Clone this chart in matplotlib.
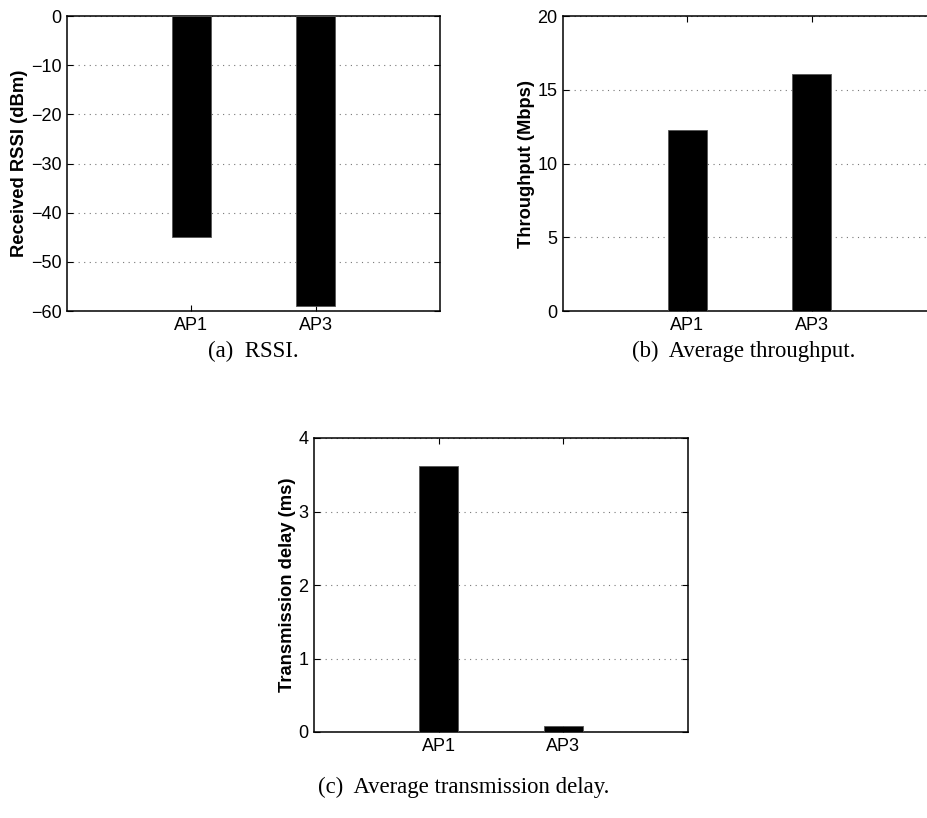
import matplotlib
matplotlib.use("Agg")
import matplotlib.pyplot as plt

# data
aps = ["AP1", "AP3"]
rssi = [-45, -59]
throughput = [12.3, 16.1]
delay = [3.62, 0.08]

plt.rcParams["font.family"] = ["Liberation Sans", "DejaVu Sans"]

fig = plt.figure(figsize=(9.28, 8.18), dpi=100)
W, H = 928.0, 818.0


def panel(l, t, r, b):
    # pixel box -> figure fraction
    return [l / W, 1 - b / H, (r - l) / W, (b - t) / H]


def draw(ax, vals, ylim, yticks, ylabel):
    pos = [1, 2]
    ax.bar(pos, vals, width=0.31, color="black", edgecolor="#555555", linewidth=0.6, zorder=3)
    ax.set_xlim(0, 3)
    ax.set_ylim(*ylim)
    ax.set_xticks(pos)
    ax.set_xticklabels(aps)
    ax.set_yticks(yticks)
    ax.yaxis.grid(True, linestyle=(0, (1, 4)), color="#777777", linewidth=0.8)
    ax.tick_params(direction="in", top=True, right=True, length=4, labelsize=13, pad=4)
    for s in ax.spines.values():
        s.set_linewidth(1.1)
    ax.set_ylabel(ylabel, fontsize=13.2, fontweight="bold", labelpad=2)


ax1 = fig.add_axes(panel(67, 16, 440, 311))
draw(ax1, rssi, (-60, 0), range(-60, 1, 10), "Received RSSI (dBm)")

ax2 = fig.add_axes(panel(563, 16, 936, 311))
draw(ax2, throughput, (0, 20), range(0, 21, 5), "Throughput (Mbps)")

ax3 = fig.add_axes(panel(314, 438, 688, 732))
draw(ax3, delay, (0, 4), range(0, 5), "Transmission delay (ms)")

cap = dict(family=["Liberation Serif", "DejaVu Serif"], fontsize=16.4, ha="center", va="center")
fig.text(253 / W, 1 - 351 / H, "(a)  RSSI.", **cap)
fig.text(744 / W, 1 - 351 / H, "(b)  Average throughput.", **cap)
fig.text(464 / W, 1 - 787 / H, "(c)  Average transmission delay.", **cap)

fig.savefig("out.png", dpi=100)
